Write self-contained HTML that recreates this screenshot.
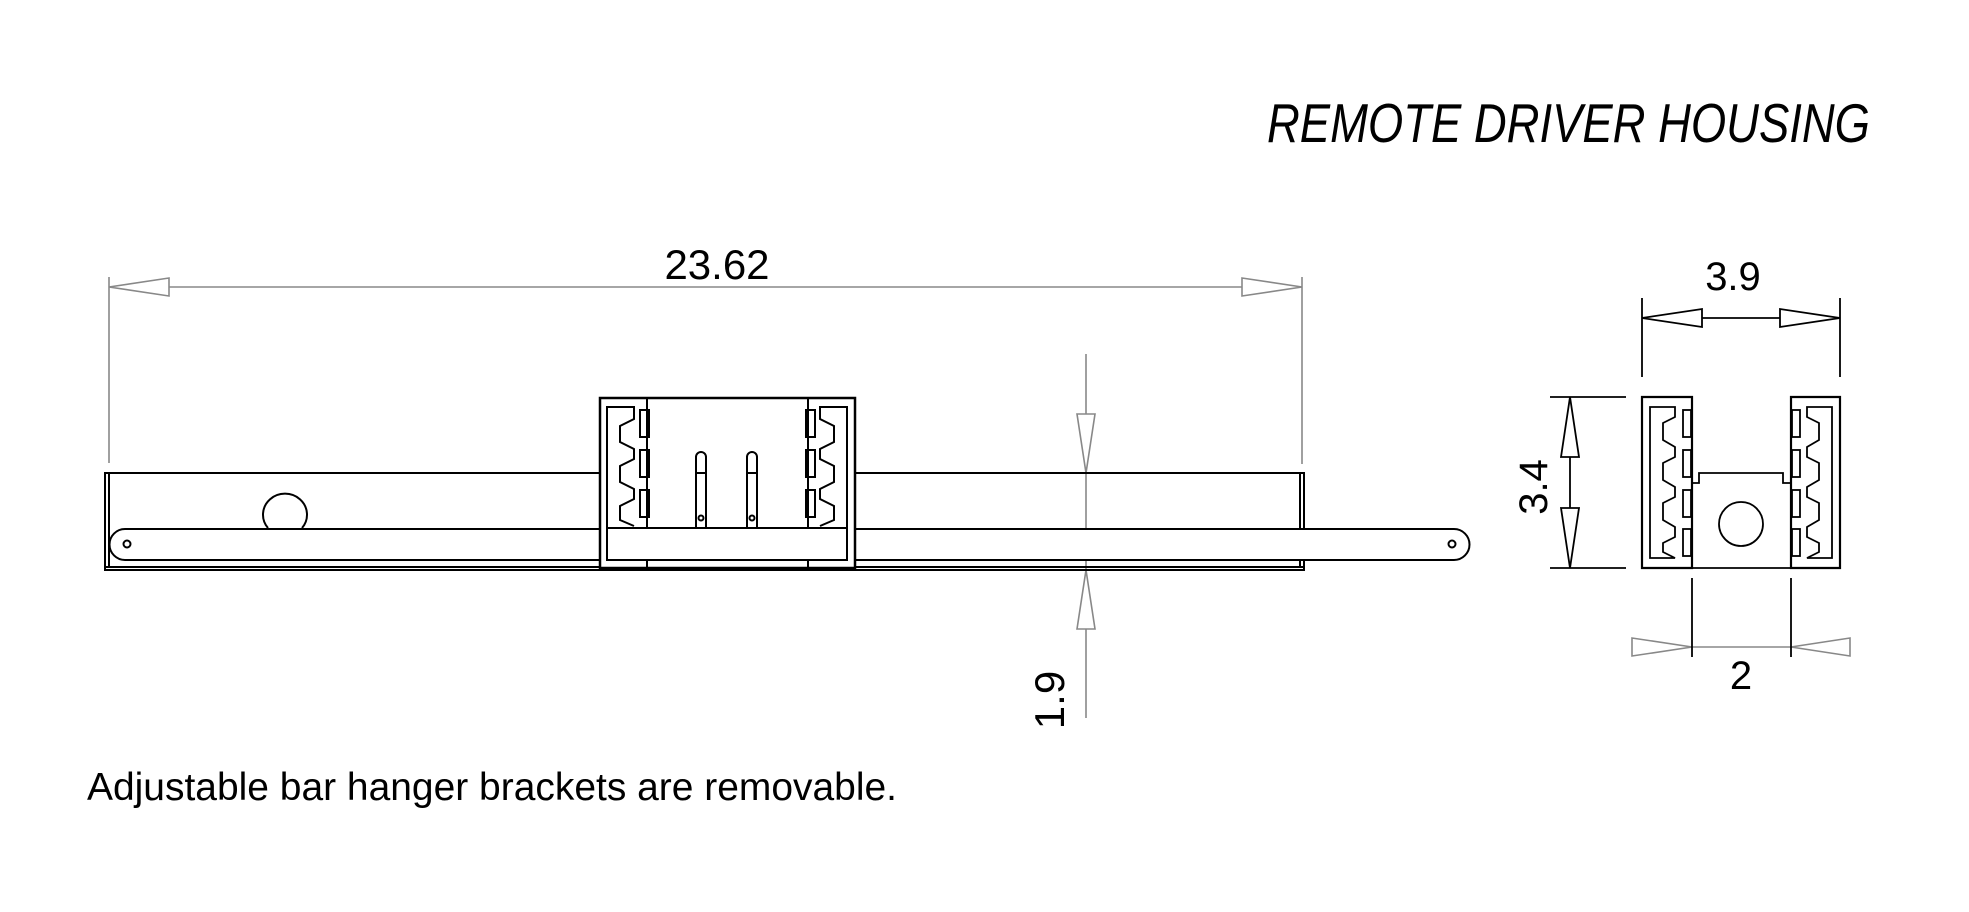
<!DOCTYPE html>
<html><head><meta charset="utf-8"><style>
html,body{margin:0;padding:0;background:#fff;width:1969px;height:912px;overflow:hidden}
svg{display:block}
text{font-family:"Liberation Sans",sans-serif;fill:#000}
</style></head><body>
<svg width="1969" height="912" viewBox="0 0 1969 912" xmlns="http://www.w3.org/2000/svg">
<!-- Title -->
<text x="1267" y="142" font-size="55" font-style="italic" textLength="603" lengthAdjust="spacingAndGlyphs">REMOTE DRIVER HOUSING</text>
<!-- Footer -->
<text x="87" y="800" font-size="39" textLength="810" lengthAdjust="spacingAndGlyphs">Adjustable bar hanger brackets are removable.</text>

<!-- 23.62 dimension -->
<g stroke="#888" stroke-width="1.6" fill="#fff">
<line x1="109" y1="277" x2="109" y2="463"/>
<line x1="1302" y1="277" x2="1302" y2="464"/>
<line x1="109" y1="287" x2="1302" y2="287"/>
<polygon points="109,287 169,278 169,296"/>
<polygon points="1302,287 1242,278 1242,296"/>
<!-- 1.9 -->
<line x1="1086" y1="354" x2="1086" y2="718"/>
<polygon points="1086,473 1077,414 1095,414"/>
<polygon points="1086,570 1077,629 1095,629"/>
<!-- 2 -->
<line x1="1632" y1="647" x2="1850" y2="647"/>
<polygon points="1692,647 1632,638 1632,656"/>
<polygon points="1791,647 1850,638 1850,656"/>
</g>
<text x="717" y="279" font-size="42" text-anchor="middle">23.62</text>
<text transform="translate(1064,700) rotate(-90)" font-size="42" text-anchor="middle">1.9</text>

<!-- Main view housing -->
<g stroke="#000" stroke-width="2" fill="none">
<rect x="105" y="473" width="1199" height="97"/>
<line x1="109" y1="473" x2="109" y2="567"/>
<line x1="105" y1="567" x2="1304" y2="567"/>
<line x1="1300" y1="473" x2="1300" y2="567"/>
<!-- circle -->
<path d="M268,528 A22,21 0 1 1 302,528"/>
<!-- bar -->
<path d="M125,529 H1454 A15.5,15.5 0 0 1 1454,560 H125 A15.5,15.5 0 0 1 125,529 Z" fill="#fff"/>
<circle cx="127" cy="544" r="3.5"/>
<circle cx="1452" cy="544" r="3.5"/>
<!-- bracket -->
<rect x="600" y="398" width="255" height="170" fill="#fff" stroke-width="2.5"/>
<line x1="647" y1="398" x2="647" y2="568"/>
<line x1="808" y1="398" x2="808" y2="568"/>
<rect x="607" y="528" width="240" height="32" fill="#fff"/>
<!-- left comb -->
<path d="M607,528 V407 H634 V419 L620,426 V442 L634,449 V459 L620,466 V482 L634,489 V499 L620,506 V520 L634,526"/>
<!-- right comb -->
<path d="M847,528 V407 H820 V419 L834,426 V442 L820,449 V459 L834,466 V482 L820,489 V499 L834,506 V520 L820,526"/>
<rect x="640" y="410" width="9" height="27"/>
<rect x="640" y="450" width="9" height="27"/>
<rect x="640" y="490" width="9" height="27"/>
<rect x="806" y="410" width="9" height="27"/>
<rect x="806" y="450" width="9" height="27"/>
<rect x="806" y="490" width="9" height="27"/>
<!-- pins -->
<path d="M696,528 V457 A5,5 0 0 1 706,457 V528"/>
<path d="M747,528 V457 A5,5 0 0 1 757,457 V528"/>
<line x1="696" y1="473" x2="706" y2="473"/>
<line x1="747" y1="473" x2="757" y2="473"/>
<circle cx="701" cy="518" r="2.5"/>
<circle cx="752" cy="518" r="2.5"/>
</g>

<!-- Right view -->
<g stroke="#000" stroke-width="1.8" fill="none">
<!-- 3.9 dim -->
<line x1="1642" y1="298" x2="1642" y2="377"/>
<line x1="1840" y1="298" x2="1840" y2="377"/>
<line x1="1642" y1="318" x2="1840" y2="318"/>
<polygon points="1642,318 1702,309 1702,327" fill="#fff"/>
<polygon points="1840,318 1780,309 1780,327" fill="#fff"/>
<!-- 3.4 dim -->
<line x1="1550" y1="397" x2="1626" y2="397"/>
<line x1="1550" y1="568" x2="1626" y2="568"/>
<line x1="1570" y1="397" x2="1570" y2="568"/>
<polygon points="1570,397 1561,457 1579,457" fill="#fff"/>
<polygon points="1570,568 1561,508 1579,508" fill="#fff"/>
<!-- 2 ext -->
<line x1="1692" y1="578" x2="1692" y2="657"/>
<line x1="1791" y1="578" x2="1791" y2="657"/>
<!-- body -->
<path d="M1642,568 V397 H1692 V568 Z" stroke-width="2.2"/>
<path d="M1840,568 V397 H1791 V568 Z" stroke-width="2.2"/>
<path d="M1692,483 H1699 V473 H1783 V483 H1791 V568 H1692"/>
<circle cx="1741" cy="524" r="22"/>
<!-- left inner -->
<path d="M1650,558 V407 H1675 V417 L1663,423 V440 L1675,447 V457 L1663,463 V480 L1675,487 V497 L1663,503 V520 L1675,527 V537 L1663,543 V552 L1675,558 Z"/>
<!-- right inner -->
<path d="M1832,558 V407 H1807 V417 L1819,423 V440 L1807,447 V457 L1819,463 V480 L1807,487 V497 L1819,503 V520 L1807,527 V537 L1819,543 V552 L1807,558 Z"/>
<rect x="1683" y="410" width="8" height="27"/>
<rect x="1683" y="450" width="8" height="27"/>
<rect x="1683" y="490" width="8" height="27"/>
<rect x="1683" y="529" width="8" height="27"/>
<rect x="1792" y="410" width="8" height="27"/>
<rect x="1792" y="450" width="8" height="27"/>
<rect x="1792" y="490" width="8" height="27"/>
<rect x="1792" y="529" width="8" height="27"/>
</g>
<text x="1733" y="290" font-size="40" text-anchor="middle">3.9</text>
<text transform="translate(1547,487) rotate(-90)" font-size="40" text-anchor="middle">3.4</text>
<text x="1741" y="689" font-size="40" text-anchor="middle">2</text>
</svg>
</body></html>
